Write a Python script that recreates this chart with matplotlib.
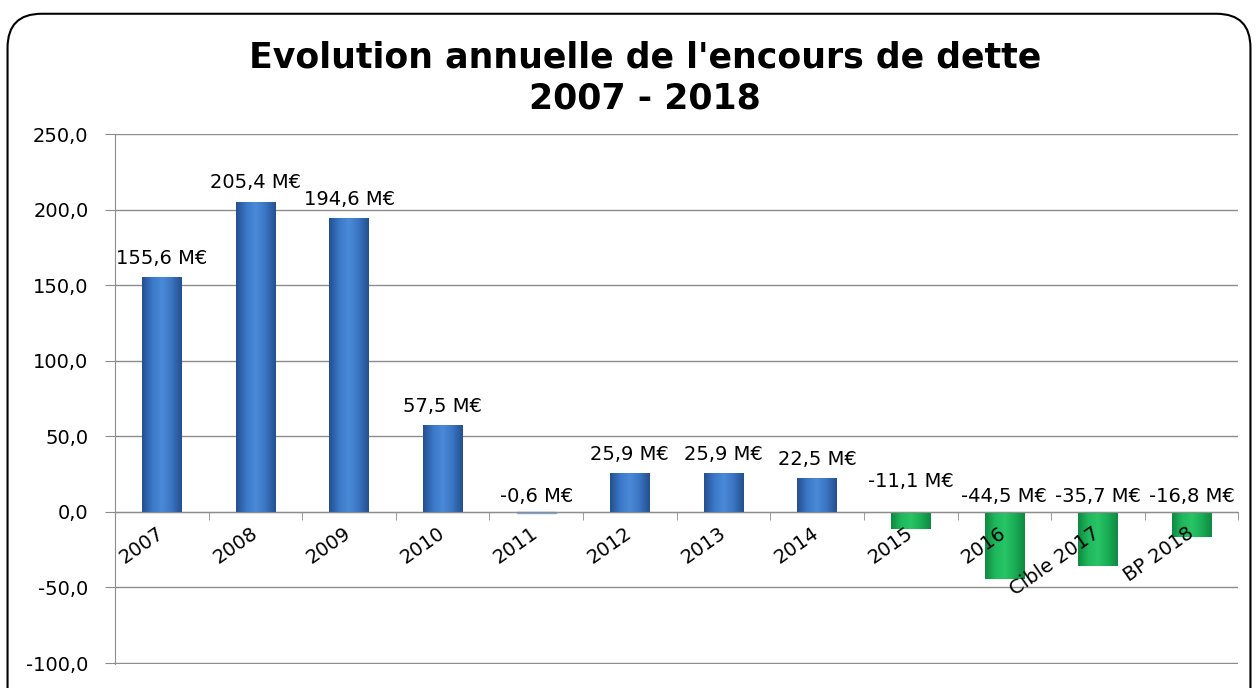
import numpy as np
import matplotlib.pyplot as plt
from matplotlib.patches import FancyBboxPatch
from matplotlib.ticker import FuncFormatter, FixedLocator
from matplotlib.colors import LinearSegmentedColormap

plt.rcParams['font.family'] = ['DejaVu Sans']

# data
categories = ['2007', '2008', '2009', '2010', '2011', '2012', '2013', '2014',
              '2015', '2016', 'Cible 2017', 'BP 2018']
values = [155.6, 205.4, 194.6, 57.5, -0.6, 25.9, 25.9, 22.5,
          -11.1, -44.5, -35.7, -16.8]
labels = ['155,6 M€', '205,4 M€', '194,6 M€', '57,5 M€', '-0,6 M€', '25,9 M€',
          '25,9 M€', '22,5 M€', '-11,1 M€', '-44,5 M€', '-35,7 M€', '-16,8 M€']
is_green = [False] * 8 + [True] * 4

fig = plt.figure(figsize=(12.58, 6.88), dpi=100)

# rounded frame
frame = FancyBboxPatch((0.006, -0.05), 0.988, 1.03, boxstyle='round,pad=0,rounding_size=0.027',
                       transform=fig.transFigure, fill=False, edgecolor='black', lw=1.5,
                       mutation_aspect=1258 / 688)
fig.patches.append(frame)

ax = fig.add_axes([0.0914, 0.035, 0.893, 0.77])

x = np.arange(len(categories))
w = 0.42
bars = ax.bar(x, values, width=w, color='none', edgecolor='none', zorder=2)

blue = LinearSegmentedColormap.from_list('b', ['#24508f', '#3a78c8', '#4a8ad8', '#3a74c2', '#24508f'])
green = LinearSegmentedColormap.from_list('g', ['#0e8a42', '#1fb85c', '#28c466', '#1aad55', '#0e8a42'])
grad = np.linspace(0, 1, 64).reshape(1, -1)
for b, v, g in zip(bars, values, is_green):
    x0 = b.get_x()
    y0, y1 = min(0, v), max(0, v)
    im = ax.imshow(grad, cmap=green if g else blue, aspect='auto',
                   extent=[x0, x0 + w, y0, y1], zorder=2)
    im.set_clip_path(b)
    if abs(v) < 2:
        b.set_facecolor('#7fa4d6')
        b.set_edgecolor('#7fa4d6')

# value labels
for xi, v, lab in zip(x, values, labels):
    if v > 0:
        ax.text(xi, v + 6, lab, ha='center', va='bottom', fontsize=14, zorder=5)
    else:
        off = 14 if v == -11.1 else 4
        ax.text(xi, off, lab, ha='center', va='bottom', fontsize=14, zorder=5)

ax.set_xlim(-0.5, len(categories) - 0.5)
ax.set_ylim(-100.6, 250)
ax.set_yticks(np.arange(-100, 251, 50))
ax.yaxis.set_major_formatter(FuncFormatter(lambda v, p: f'{v:.1f}'.replace('.', ',')))
ax.set_axisbelow(True)
ax.grid(axis='y', color='#8c8c8c', lw=1)
ax.xaxis.set_zorder(5)

for s in ['top', 'right']:
    ax.spines[s].set_visible(False)
ax.spines['left'].set_color('#8c8c8c')
ax.spines['bottom'].set_position(('data', 0))
ax.spines['bottom'].set_color('#8c8c8c')
ax.spines['bottom'].set_zorder(4)

ax.set_xticks(x)
ax.set_xticklabels(categories, rotation=35, ha='right', va='center', rotation_mode='anchor',
                   fontsize=14)
ax.xaxis.set_minor_locator(FixedLocator(np.arange(-0.5, len(categories), 1)))
ax.tick_params(axis='x', which='major', length=0, pad=14)
ax.tick_params(axis='x', which='minor', length=6, color='#8c8c8c')
ax.tick_params(axis='y', length=7, color='#8c8c8c', labelsize=14, pad=12)

fig.text(0.513, 0.887, "Evolution annuelle de l'encours de dette\n2007 - 2018",
         ha='center', va='center', fontsize=25, fontweight='bold', linespacing=1.25)

fig.savefig('out.png', dpi=100)
